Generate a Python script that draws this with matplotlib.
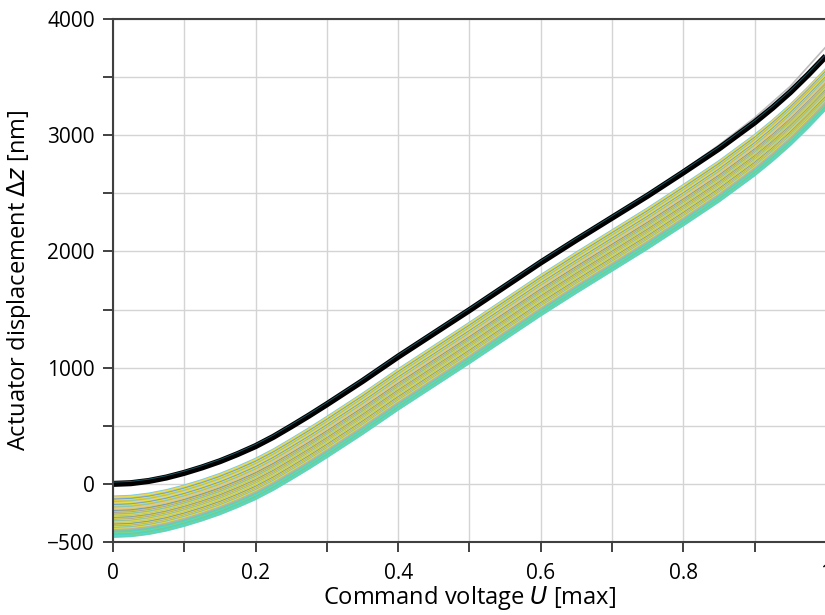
import numpy as np
import matplotlib
matplotlib.use('Agg')
import matplotlib.pyplot as plt
from matplotlib.ticker import MultipleLocator

plt.rcParams['font.family'] = ['Open Sans', 'DejaVu Sans']

# command voltage (fraction of max) and reference curve (black)
u = [0.0, 0.025, 0.05, 0.075, 0.1, 0.125, 0.15, 0.175, 0.2, 0.225, 0.25, 0.275,
     0.3, 0.35, 0.4, 0.45, 0.5, 0.55, 0.6, 0.65, 0.7, 0.75, 0.8, 0.85,
     0.9, 0.925, 0.95, 0.975, 1.0]
dz_ref = [0, 6, 25, 55, 95, 142, 195, 257, 325, 405, 495, 588,
          685, 885, 1095, 1295, 1495, 1700, 1905, 2100, 2290, 2480, 2680, 2885,
          3110, 3235, 3370, 3520, 3680]

# faint grey repeats just above the black curve near full voltage
u_grey = [0.8, 0.85, 0.9, 0.95, 1.0]
dz_grey = [2700, 2915, 3150, 3420, 3760]

# offsets of the coloured repeat curves relative to the reference (read at U=0)
offs_top = [-108, -115, -121, -130, -137, -143, -151, -158, -163, -171, -178,
            -184, -190, -197, -205, -211]
offs_mid = [-216, -222, -229, -233, -240, -247, -251, -258, -263, -270, -276,
            -281, -287, -293, -298, -305, -310, -316, -322, -327, -333, -339,
            -344, -350, -356, -361, -367, -372, -378, -384, -389, -395]
offs_low = [-400, -406, -411, -417, -422, -428, -433, -438, -443, -448, -453, -457]

pal_top = ['#5cc8ea', '#f0c878', '#ecea2a', '#b0b0b0', '#4a9ae6', '#ecea2a', '#d8c050']
pal_mid = ['#ecea2a', '#b0b0b0', '#ecea2a', '#4a90e6', '#d6b44a', '#e4e428',
           '#9a90d0', '#ecea2a', '#60c0e0', '#d0c060']
pal_low = ['#9ad46a', '#58d4c8', '#70cc90', '#48d8d8', '#50d8c0']

x = np.array(u)
ref = np.array(dz_ref)

fig = plt.figure(figsize=(8.25, 6.15), dpi=100)
ax = fig.add_axes([0.137, 0.1187, 0.864, 0.8504])

for i, o in enumerate(offs_low):
    ax.plot(x, ref + o, color=pal_low[i % len(pal_low)], lw=1.4, alpha=0.9)
for i, o in enumerate(offs_mid):
    ax.plot(x, ref + o, color=pal_mid[i % len(pal_mid)], lw=1.4, alpha=0.9)
for i, o in enumerate(offs_top):
    ax.plot(x, ref + o, color=pal_top[i % len(pal_top)], lw=1.4, alpha=0.9)

ax.plot(u_grey, dz_grey, color='#a0a0a0', lw=1.2, alpha=0.7)
ax.plot(x, ref, color='black', lw=4.4, solid_capstyle='butt')
ax.plot(x, ref + 15, color='#1a5560', lw=0.7)

ax.set_xlim(0, 1)
ax.set_ylim(-500, 4000)
ax.set_xticks([0, 0.2, 0.4, 0.6, 0.8, 1.0])
ax.set_xticklabels(['0', '0.2', '0.4', '0.6', '0.8', '1'])
ax.xaxis.set_minor_locator(MultipleLocator(0.1))
ax.set_yticks([-500, 0, 1000, 2000, 3000, 4000])
ax.set_yticks([500, 1500, 2500, 3500], minor=True)
ax.grid(True, which='both', color='#d4d4d4', lw=1)
ax.set_axisbelow(True)
ax.tick_params(which='both', direction='out', length=7, width=1.3,
               color='#333333', labelsize=15)
ax.tick_params(axis='x', pad=8)
ax.tick_params(axis='y', pad=6)
for s in ['left', 'bottom', 'top']:
    ax.spines[s].set_color('#404040')
    ax.spines[s].set_linewidth(1.5)
ax.spines['right'].set_visible(False)

ax.set_xlabel('Command voltage $\\mathit{U}$ [max]', fontsize=17, labelpad=0)
ax.set_ylabel('Actuator displacement $\\Delta\\mathit{z}$ [nm]', fontsize=17, labelpad=10)

fig.savefig('out.png', dpi=100)
plt.close(fig)
